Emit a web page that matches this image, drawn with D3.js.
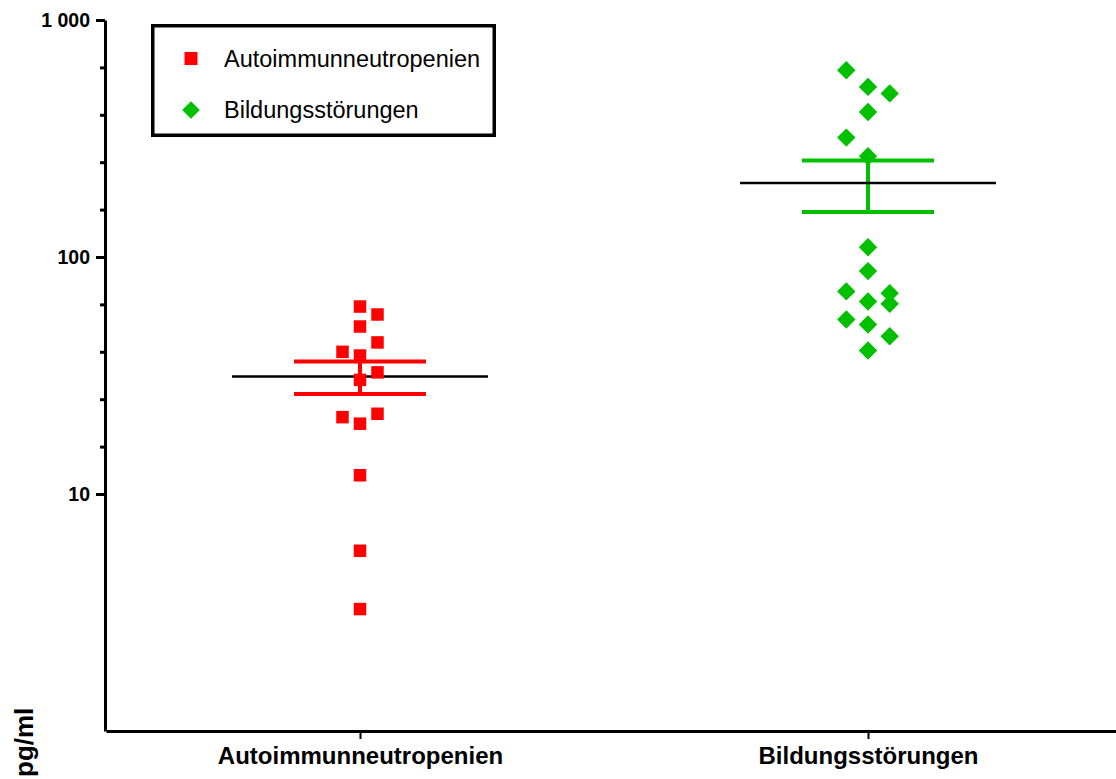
<!DOCTYPE html>
<html>
<head>
<meta charset="utf-8">
<script src="https://cdn.jsdelivr.net/npm/d3@7"></script>
<style>
  html, body { margin: 0; padding: 0; background: #fff; }
  svg { display: block; font-family: "Liberation Sans", Arial, sans-serif; }
</style>
</head>
<body>
<svg id="chart" width="1116" height="779"></svg>
<script>
// Groups shown on the x axis
const categories = ["Autoimmunneutropenien", "Bildungsstörungen"];
const colors = ["#ff0000", "#00c000"];

// Measured concentrations (pg/ml) per group, with the scatter column of each point
const autoimmunValues = [61.8, 57.2, 50.9, 43.6, 39.8, 38.4, 32.6, 30.3, 21.1, 21.8, 19.8, 12.0, 5.76, 3.27];
const autoimmunColumns = [0, 1, 0, 1, -1, 0, 1, 0, -1, 1, 0, 0, 0, 0];
const bildungValues = [614, 522, 490, 409, 319, 266, 110, 87.2, 71.6, 70.4, 63.5, 64.9, 54.5, 51.9, 46.3, 40.3];
const bildungColumns = [-1, 0, 1, 0, -1, 0, 0, 0, -1, 1, 1, 0, -1, 0, 1, 0];

// Axis ticks
const yDomain = [1, 1000];
const yMajorTicks = [10, 100, 1000];
const yTickLabels = ["10", "100", "1 000"];
const yLabel = "pg/ml";

const groups = [
  { name: categories[0], values: autoimmunValues, cols: autoimmunColumns, color: colors[0], shape: "square", spread: 17.5 },
  { name: categories[1], values: bildungValues, cols: bildungColumns, color: colors[1], shape: "diamond", spread: 21.7 }
];

const svg = d3.select("#chart");
const plotLeft = 105, plotBottom = 731, plotTop = 20;

const y = d3.scaleLog().domain(yDomain).range([plotBottom, plotTop]);
const x = d3.scalePoint().domain(categories).range([plotLeft + 1, 1122]).padding(0.5);

// Minor ticks: four evenly spaced (in log) between the labelled decades
const minorTicks = [];
for (let d = 1; d < 3; d++) {
  for (let j = 1; j < 5; j++) minorTicks.push(Math.pow(10, d + j / 5));
}

// X axis
const xAxis = svg.append("g").attr("transform", `translate(0,${plotBottom})`)
  .call(d3.axisBottom(x).tickSize(8).tickSizeOuter(0).tickPadding(8));
xAxis.select(".domain").attr("stroke", "#000").attr("stroke-width", 3);
xAxis.selectAll(".tick line").attr("stroke", "#000").attr("stroke-width", 2);
xAxis.selectAll(".tick text").attr("fill", "#000").attr("font-size", 24)
  .attr("font-weight", "bold").attr("font-family", "Liberation Sans, Arial, sans-serif");

// Y axis
const yAxis = svg.append("g").attr("transform", `translate(${plotLeft},0)`)
  .call(d3.axisLeft(y).tickValues(yMajorTicks).tickSize(9).tickSizeOuter(0)
    .tickFormat((d, i) => yTickLabels[i]).tickPadding(6));
yAxis.select(".domain").attr("stroke", "#000").attr("stroke-width", 3);
yAxis.selectAll(".tick line").attr("stroke", "#000").attr("stroke-width", 3);
yAxis.selectAll(".tick text").attr("fill", "#000").attr("font-size", 19.5)
  .attr("font-weight", "bold").attr("font-family", "Liberation Sans, Arial, sans-serif");

const yMinor = svg.append("g").attr("transform", `translate(${plotLeft},0)`)
  .call(d3.axisLeft(y).tickValues(minorTicks).tickSize(5).tickSizeOuter(0).tickFormat(""));
yMinor.select(".domain").remove();
yMinor.selectAll(".tick line").attr("stroke", "#000").attr("stroke-width", 3);

// Y axis title
svg.append("text")
  .attr("transform", "translate(33,777) rotate(-90)")
  .attr("font-size", 26).attr("font-weight", "bold").attr("fill", "#000")
  .text(yLabel);

// Mean ± SEM and individual points per group
const symbolSize = { square: 12.5 * 12.5, diamond: 13 * 13 };
groups.forEach(g => {
  const cx = x(g.name);
  const mean = d3.mean(g.values);
  const sem = d3.deviation(g.values) / Math.sqrt(g.values.length);
  const layer = svg.append("g");

  // error bar
  layer.append("line").attr("x1", cx).attr("x2", cx)
    .attr("y1", y(mean + sem)).attr("y2", y(mean - sem))
    .attr("stroke", g.color).attr("stroke-width", 4);
  [mean + sem, mean - sem].forEach(v => {
    layer.append("line").attr("x1", cx - 66).attr("x2", cx + 66)
      .attr("y1", y(v)).attr("y2", y(v))
      .attr("stroke", g.color).attr("stroke-width", 4);
  });
  // mean line
  layer.append("line").attr("x1", cx - 128).attr("x2", cx + 128)
    .attr("y1", y(mean)).attr("y2", y(mean))
    .attr("stroke", "#000").attr("stroke-width", 2.5);

  // points
  layer.selectAll("path.pt").data(g.values).join("path")
    .attr("class", "pt")
    .attr("transform", (v, i) => {
      const px = cx + g.cols[i] * g.spread;
      return `translate(${px},${y(v)})` + (g.shape === "diamond" ? " rotate(45)" : "");
    })
    .attr("d", d3.symbol().type(d3.symbolSquare).size(symbolSize[g.shape]))
    .attr("fill", g.color);
});

// Legend
const legend = svg.append("g");
legend.append("rect").attr("x", 152.75).attr("y", 25.75).attr("width", 341.5).attr("height", 109.5)
  .attr("fill", "#fff").attr("stroke", "#000").attr("stroke-width", 3.5);
groups.forEach((g, i) => {
  const ly = [58.5, 110][i];
  legend.append("path")
    .attr("transform", `translate(191,${ly})` + (g.shape === "diamond" ? " rotate(45)" : ""))
    .attr("d", d3.symbol().type(d3.symbolSquare).size(g.shape === "diamond" ? 12.5 * 12.5 : 13 * 13))
    .attr("fill", g.color);
  legend.append("text").attr("x", 224).attr("y", ly + 8.3)
    .attr("font-size", 23.5).attr("fill", "#000").text(g.name);
});
</script>
</body>
</html>
